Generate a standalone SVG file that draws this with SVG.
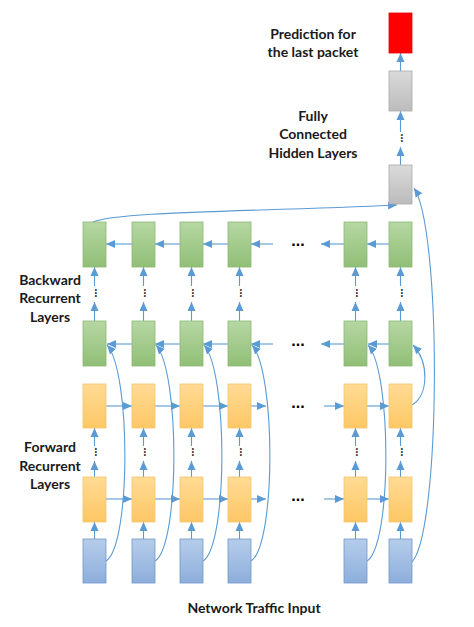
<svg xmlns="http://www.w3.org/2000/svg" width="474" height="627" viewBox="0 0 474 627">
<defs>
<linearGradient id="gG" x1="0" y1="0" x2="0" y2="1"><stop offset="0" stop-color="#b6d7a3"/><stop offset="1" stop-color="#90bf76"/></linearGradient>
<linearGradient id="gY" x1="0" y1="0" x2="0" y2="1"><stop offset="0" stop-color="#ffdb94"/><stop offset="1" stop-color="#fdc765"/></linearGradient>
<linearGradient id="gB" x1="0" y1="0" x2="0" y2="1"><stop offset="0" stop-color="#b5cdea"/><stop offset="1" stop-color="#8daedb"/></linearGradient>
<linearGradient id="gA" x1="0" y1="0" x2="0" y2="1"><stop offset="0" stop-color="#dadada"/><stop offset="1" stop-color="#bcbcbc"/></linearGradient>
<marker id="ah" markerUnits="userSpaceOnUse" markerWidth="10" markerHeight="10" viewBox="0 0 10 10" refX="9" refY="5" orient="auto">
<path d="M0,1 L9,5 L0,9 Z" fill="#5b9bd5"/>
</marker>
<style>
.g{fill:url(#gG);stroke:#8cb874;stroke-width:0.8}
.y{fill:url(#gY);stroke:#f6c66c;stroke-width:0.8}
.b{fill:url(#gB);stroke:#7397cb;stroke-width:0.8}
.a{fill:url(#gA);stroke:#aaaaaa;stroke-width:0.8}
.r{fill:#ff0000;stroke:#e40000;stroke-width:0.8}
.c{fill:none;stroke:#5b9bd5;stroke-width:1.1;marker-end:url(#ah)}
.t{font-family:Lato,"Liberation Sans",sans-serif;font-weight:bold;font-size:14px;fill:#1a1a1a;text-anchor:middle}
.d{font-family:"Liberation Sans",sans-serif;font-weight:bold;font-size:16px;fill:#000;text-anchor:middle}
.v{font-family:"Liberation Sans",sans-serif;font-weight:bold;font-size:11px;fill:#000;text-anchor:middle}
</style>
</defs>
<rect width="474" height="627" fill="#ffffff"/>

<g id="labels">
<text class="t" x="313" y="38.5">Prediction for</text>
<text class="t" x="313" y="57">the last packet</text>
<text class="t" x="313" y="120.5">Fully</text>
<text class="t" x="313" y="139">Connected</text>
<text class="t" x="313" y="157.5">Hidden Layers</text>
<text class="t" x="50" y="285">Backward</text>
<text class="t" x="50" y="303">Recurrent</text>
<text class="t" x="50" y="321.5">Layers</text>
<text class="t" x="50" y="452">Forward</text>
<text class="t" x="50" y="470.5">Recurrent</text>
<text class="t" x="50" y="488.5">Layers</text>
<text class="t" x="254" y="612.5">Network Traffic Input</text>
</g>

<g id="connectors">
<line class="c" x1="400.5" y1="71" x2="400.5" y2="53"/>
<line class="c" x1="400.5" y1="132" x2="400.5" y2="111"/>
<line class="c" x1="400.5" y1="165" x2="400.5" y2="147"/>
<line class="c" x1="94.5" y1="321" x2="94.5" y2="302"/><line class="c" x1="94.5" y1="286" x2="94.5" y2="267"/>
<line class="c" x1="143.5" y1="321" x2="143.5" y2="302"/><line class="c" x1="143.5" y1="286" x2="143.5" y2="267"/>
<line class="c" x1="191.5" y1="321" x2="191.5" y2="302"/><line class="c" x1="191.5" y1="286" x2="191.5" y2="267"/>
<line class="c" x1="239.5" y1="321" x2="239.5" y2="302"/><line class="c" x1="239.5" y1="286" x2="239.5" y2="267"/>
<line class="c" x1="355.5" y1="321" x2="355.5" y2="302"/><line class="c" x1="355.5" y1="286" x2="355.5" y2="267"/>
<line class="c" x1="400.5" y1="321" x2="400.5" y2="302"/><line class="c" x1="400.5" y1="286" x2="400.5" y2="267"/>
<line class="c" x1="94.5" y1="477" x2="94.5" y2="461"/><line class="c" x1="94.5" y1="446" x2="94.5" y2="428"/>
<line class="c" x1="143.5" y1="477" x2="143.5" y2="461"/><line class="c" x1="143.5" y1="446" x2="143.5" y2="428"/>
<line class="c" x1="191.5" y1="477" x2="191.5" y2="461"/><line class="c" x1="191.5" y1="446" x2="191.5" y2="428"/>
<line class="c" x1="239.5" y1="477" x2="239.5" y2="461"/><line class="c" x1="239.5" y1="446" x2="239.5" y2="428"/>
<line class="c" x1="355.5" y1="477" x2="355.5" y2="461"/><line class="c" x1="355.5" y1="446" x2="355.5" y2="428"/>
<line class="c" x1="400.5" y1="477" x2="400.5" y2="461"/><line class="c" x1="400.5" y1="446" x2="400.5" y2="428"/>
<line class="c" x1="94.5" y1="539" x2="94.5" y2="522"/>
<line class="c" x1="143.5" y1="539" x2="143.5" y2="522"/>
<line class="c" x1="191.5" y1="539" x2="191.5" y2="522"/>
<line class="c" x1="239.5" y1="539" x2="239.5" y2="522"/>
<line class="c" x1="355.5" y1="539" x2="355.5" y2="522"/>
<line class="c" x1="400.5" y1="539" x2="400.5" y2="522"/>
<line class="c" x1="132" y1="244" x2="106" y2="244"/>
<line class="c" x1="180" y1="244" x2="155" y2="244"/>
<line class="c" x1="228" y1="244" x2="203" y2="244"/>
<line class="c" x1="273" y1="244" x2="251" y2="244"/>
<line class="c" x1="344" y1="244" x2="321" y2="244"/>
<line class="c" x1="389" y1="244" x2="367" y2="244"/>
<line class="c" x1="132" y1="344" x2="107" y2="344"/>
<line class="c" x1="180" y1="344" x2="155" y2="344"/>
<line class="c" x1="228" y1="344" x2="203" y2="344"/>
<line class="c" x1="273" y1="344" x2="251" y2="344"/>
<line class="c" x1="344" y1="344" x2="321" y2="344"/>
<line class="c" x1="389" y1="344" x2="368" y2="344"/>
<line class="c" x1="106" y1="406" x2="132" y2="406"/>
<line class="c" x1="155" y1="406" x2="180" y2="406"/>
<line class="c" x1="203" y1="406" x2="228" y2="406"/>
<line class="c" x1="251" y1="406" x2="266" y2="406"/>
<line class="c" x1="324" y1="406" x2="344" y2="406"/>
<line class="c" x1="367" y1="406" x2="389" y2="406"/>
<line class="c" x1="106" y1="499" x2="132" y2="499"/>
<line class="c" x1="155" y1="499" x2="180" y2="499"/>
<line class="c" x1="203" y1="499" x2="228" y2="499"/>
<line class="c" x1="251" y1="499" x2="266" y2="499"/>
<line class="c" x1="324" y1="499" x2="344" y2="499"/>
<line class="c" x1="367" y1="499" x2="389" y2="499"/>
<path class="c" d="M106,561 C131,545 131,372 107,345"/>
<path class="c" d="M155,561 C180,545 180,372 156,345"/>
<path class="c" d="M203,561 C228,545 228,372 204,345"/>
<path class="c" d="M251,561 C276,545 276,372 252,345"/>
<path class="c" d="M367,561 C392,545 392,372 368,345"/>
<path class="c" d="M412,405 C429,395 429,362 413,345"/>
<path class="c" d="M412,562 C441,530 442,230 414,188"/>
<path class="c" d="M93,222 C120,211 250,212 397,205"/>
</g>

<g id="dots">
<text class="d" x="298" y="246">...</text>
<text class="d" x="298" y="346">...</text>
<text class="d" x="298" y="408">...</text>
<text class="d" x="298" y="501">...</text>
<text class="v" transform="translate(400.5,138) rotate(90)">...</text>
<text class="v" transform="translate(94.5,293) rotate(90)">...</text>
<text class="v" transform="translate(143.5,293) rotate(90)">...</text>
<text class="v" transform="translate(191.5,293) rotate(90)">...</text>
<text class="v" transform="translate(239.5,293) rotate(90)">...</text>
<text class="v" transform="translate(355.5,293) rotate(90)">...</text>
<text class="v" transform="translate(400.5,293) rotate(90)">...</text>
<text class="v" transform="translate(94.5,452) rotate(90)">...</text>
<text class="v" transform="translate(143.5,452) rotate(90)">...</text>
<text class="v" transform="translate(191.5,452) rotate(90)">...</text>
<text class="v" transform="translate(239.5,452) rotate(90)">...</text>
<text class="v" transform="translate(355.5,452) rotate(90)">...</text>
<text class="v" transform="translate(400.5,452) rotate(90)">...</text>
</g>

<g id="out"><rect class="r" x="389" y="13" width="23" height="40"/></g>
<g id="fc2"><rect class="a" x="389" y="71" width="23" height="40"/></g>
<g id="fc1"><rect class="a" x="389" y="165" width="23" height="39"/></g>

<g id="bwTop">
<rect class="g" x="83" y="222" width="23" height="45"/><rect class="g" x="132" y="222" width="23" height="45"/><rect class="g" x="180" y="222" width="23" height="45"/><rect class="g" x="228" y="222" width="23" height="45"/><rect class="g" x="344" y="222" width="23" height="45"/><rect class="g" x="389" y="222" width="23" height="45"/>
</g>
<g id="bwBot">
<rect class="g" x="83" y="321" width="23" height="45"/><rect class="g" x="132" y="321" width="23" height="45"/><rect class="g" x="180" y="321" width="23" height="45"/><rect class="g" x="228" y="321" width="23" height="45"/><rect class="g" x="344" y="321" width="23" height="45"/><rect class="g" x="389" y="321" width="23" height="45"/>
</g>
<g id="fwTop">
<rect class="y" x="83" y="384" width="23" height="44"/><rect class="y" x="132" y="384" width="23" height="44"/><rect class="y" x="180" y="384" width="23" height="44"/><rect class="y" x="228" y="384" width="23" height="44"/><rect class="y" x="344" y="384" width="23" height="44"/><rect class="y" x="389" y="384" width="23" height="44"/>
</g>
<g id="fwBot">
<rect class="y" x="83" y="477" width="23" height="45"/><rect class="y" x="132" y="477" width="23" height="45"/><rect class="y" x="180" y="477" width="23" height="45"/><rect class="y" x="228" y="477" width="23" height="45"/><rect class="y" x="344" y="477" width="23" height="45"/><rect class="y" x="389" y="477" width="23" height="45"/>
</g>
<g id="input">
<rect class="b" x="83" y="539" width="23" height="44"/><rect class="b" x="132" y="539" width="23" height="44"/><rect class="b" x="180" y="539" width="23" height="44"/><rect class="b" x="228" y="539" width="23" height="44"/><rect class="b" x="344" y="539" width="23" height="44"/><rect class="b" x="389" y="539" width="23" height="44"/>
</g>
</svg>
